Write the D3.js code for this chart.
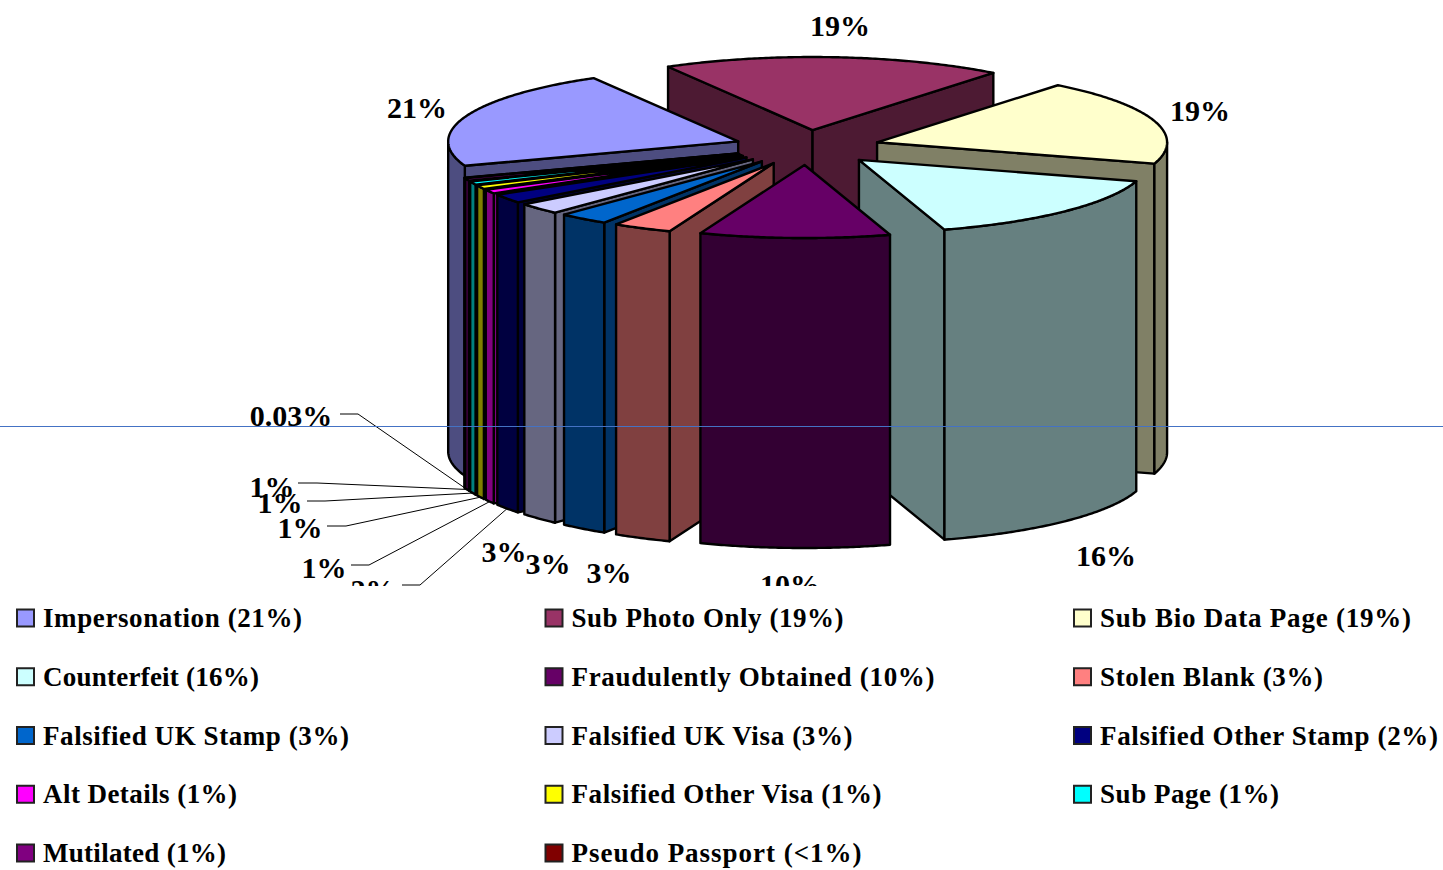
<!DOCTYPE html>
<html>
<head>
<meta charset="utf-8">
<script src="https://cdnjs.cloudflare.com/ajax/libs/d3/7.8.5/d3.min.js"></script>
<style>
  html, body { margin: 0; padding: 0; background: #fff; }
  svg { display: block; }
  text { font-family: "Liberation Serif", serif; font-weight: bold; fill: #000; }
</style>
</head>
<body>
<div id="graphic"></div>
<script>
const names = ["Impersonation", "Sub Photo Only", "Sub Bio Data Page", "Counterfeit", "Fraudulently Obtained", "Stolen Blank", "Falsified UK Stamp", "Falsified UK Visa", "Falsified Other Stamp", "Alt Details", "Falsified Other Visa", "Sub Page", "Mutilated", "Pseudo Passport"];
// 3d foreshortening makes them a bit rough
const values = [22.1, 19, 19, 15.5, 10.6, 3.3, 2.8, 2.5, 2.0, 0.9, 0.85, 0.75, 0.6, 0.03];
const sliceLabels = ["21%", "19%", "19%", "16%", "10%", "3%", "3%", "3%", "2%", "1%", "1%", "1%", "1%", "0.03%"];
const legendPct = ["21%", "19%", "19%", "16%", "10%", "3%", "3%", "3%", "2%", "1%", "1%", "1%", "1%", "<1%"];
const colours = ["#9999ff", "#993366", "#ffffcc", "#ccffff", "#660066", "#ff8080", "#0066cc", "#ccccff", "#000080", "#ff00ff", "#ffff00", "#00ffff", "#800080", "#800000"];

// where each label sits, by hand, same order as names
const labelX = [417, 840, 1200, 1106, 790, 609, 548, 504, 373, 324, 300, 280, 272, 291];
const labelY = [108, 26, 111, 556, 585, 573, 564, 552, 590, 568, 528, 503, 487, 416];
// start of leader line [x0, elbow x, y], only the small slices have one
const leaders = { 8: [402, 420, 585], 9: [351, 369, 565], 10: [327, 346, 526], 11: [307, 325, 501], 12: [298, 317, 483], 13: [340, 358, 414] };
// legend text runs wider in the original face, so fit each entry to its width
const legendWidths = [259, 272, 311, 216, 363, 223, 306, 281, 338, 194, 310, 179, 183, 290];

const width = 1443, height = 870;
const cx = 807, cy = 147.5, rx = 290, ry = 73, depth = 310;
const explodeX = 0.253, explodeY = 0.24;
const firstAngle = 250.5 * Math.PI / 180;

const x = d3.scaleLinear().domain([-1, 1]).range([cx - rx, cx + rx]);
const y = d3.scaleLinear().domain([-1, 1]).range([cy - ry, cy + ry]);

const svg = d3.select("#graphic").append("svg").attr("width", width).attr("height", height);

svg.append("clipPath").attr("id", "plot").append("rect")
  .attr("width", width).attr("height", 586);

const chart = svg.append("g").attr("clip-path", "url(#plot)");

const pie = d3.pie().sort(null).startAngle(firstAngle).endAngle(firstAngle + 2 * Math.PI);
const slices = pie(values).map((d, i) => {
  d.i = i;
  d.mid = (d.startAngle + d.endAngle) / 2;
  return d;
});

// project an angle on the rim of an exploded slice, z is pixels down from the top face
function rim(d, a, z) {
  return [x(explodeX * Math.sin(d.mid) + Math.sin(a)), y(-explodeY * Math.cos(d.mid) - Math.cos(a)) + z];
}
function tip(d, z) {
  return [x(explodeX * Math.sin(d.mid)), y(-explodeY * Math.cos(d.mid)) + z];
}
function arcAngles(a, b) {
  return d3.range(a, b, 0.01).concat([b]);
}

const closed = d3.line().curve(d3.curveLinearClosed);
const side = c => d3.interpolateRgb(c, "#000")(0.5);

// back to front
const ordered = slices.slice().sort((a, b) => d3.descending(Math.cos(a.mid), Math.cos(b.mid)));

const groups = chart.selectAll("g.slice").data(ordered).join("g").attr("class", "slice")
  .attr("stroke", "#000").attr("stroke-width", 2.4).attr("stroke-linejoin", "round");

groups.each(function (d) {
  const g = d3.select(this);
  const c = colours[d.i];

  // cut faces, only the ones turned to the viewer
  [d.startAngle, d.endAngle].forEach((a, n) => {
    const visible = n === 0 ? Math.sin(a) < 0 : Math.sin(a) > 0;
    if (visible) {
      g.append("path").attr("fill", side(c))
        .attr("d", closed([tip(d, 0), rim(d, a, 0), rim(d, a, depth), tip(d, depth)]));
    }
  });

  // outer wall, front half of the ellipse only
  [0, 2 * Math.PI].forEach(turn => {
    const a = Math.max(d.startAngle, Math.PI / 2 + turn);
    const b = Math.min(d.endAngle, 3 * Math.PI / 2 + turn);
    if (a < b) {
      const angles = arcAngles(a, b);
      const pts = angles.map(t => rim(d, t, 0)).concat(angles.slice().reverse().map(t => rim(d, t, depth)));
      g.append("path").attr("fill", side(c)).attr("d", closed(pts));
    }
  });

  // top face
  g.append("path").attr("fill", c)
    .attr("d", closed([tip(d, 0)].concat(arcAngles(d.startAngle, d.endAngle).map(t => rim(d, t, 0)))));
});

// leader lines to the thin slices
const leaderLine = d3.line();
chart.append("g").selectAll("path").data(slices.filter(d => leaders[d.i])).join("path")
  .attr("fill", "none").attr("stroke", "#000").attr("stroke-width", 1)
  .attr("d", d => {
    const l = leaders[d.i];
    return leaderLine([[l[0], l[2]], [l[1], l[2]], rim(d, d.mid, depth)]);
  });

chart.append("g").selectAll("text").data(slices).join("text")
  .attr("x", d => labelX[d.i])
  .attr("y", d => labelY[d.i])
  .attr("dy", "0.34em")
  .attr("text-anchor", "middle")
  .attr("font-size", 30)
  .text(d => sliceLabels[d.i]);

// the stray rule across the page
svg.append("line")
  .attr("x1", 0).attr("x2", width).attr("y1", 426.5).attr("y2", 426.5)
  .attr("stroke", "#4472c4").attr("stroke-width", 1);

// legend, three columns reading left to right
const legendX = d3.scalePoint().domain([0, 1, 2]).range([17, 1074]);
const legendY = d3.scalePoint().domain([0, 1, 2, 3, 4]).range([618, 853]);

const items = svg.append("g").selectAll("g").data(names).join("g")
  .attr("transform", (d, i) => "translate(" + legendX(i % 3) + "," + legendY(Math.floor(i / 3)) + ")");

items.append("rect")
  .attr("x", 0).attr("y", -8.5).attr("width", 17).attr("height", 17)
  .attr("fill", (d, i) => colours[i])
  .attr("stroke", "#222").attr("stroke-width", 2);

items.append("text")
  .attr("x", 26).attr("y", 0).attr("dy", "0.34em")
  .attr("font-size", 27)
  .attr("textLength", (d, i) => legendWidths[i])
  .attr("lengthAdjust", "spacing")
  .text((d, i) => d + " (" + legendPct[i] + ")");
</script>
</body>
</html>
